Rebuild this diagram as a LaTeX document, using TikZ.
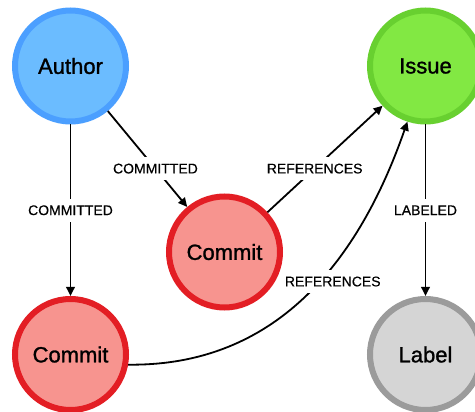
\documentclass[tikz,border=0pt]{standalone}
\usepackage{fontspec}
\setmainfont{Liberation Sans}
\newfontfamily\nodefont[FakeBold=1.2]{Liberation Sans}
\newfontfamily\relfont[FakeBold=0.4]{Liberation Sans}
\usetikzlibrary{arrows.meta}

\definecolor{authorFill}{HTML}{6BBCFF}
\definecolor{authorDraw}{HTML}{4B9FFF}
\definecolor{issueFill}{HTML}{82E843}
\definecolor{issueDraw}{HTML}{68D030}
\definecolor{commitFill}{HTML}{F7948F}
\definecolor{commitDraw}{HTML}{E31E24}
\definecolor{labelFill}{HTML}{D5D5D5}
\definecolor{labelDraw}{HTML}{9B9B9B}

\tikzset{
  entity/.style={circle, line width=6pt, minimum size=111pt, inner sep=0pt,
    font=\nodefont\fontsize{22}{24}\selectfont, text=black},
  author/.style={entity, draw=authorDraw, fill=authorFill},
  issue/.style={entity, draw=issueDraw, fill=issueFill},
  commit/.style={entity, draw=commitDraw, fill=commitFill},
  tag/.style={entity, draw=labelDraw, fill=labelFill},
  rel/.style={line width=1.8pt, draw=black,
    -{Triangle[length=9pt,width=8.5pt]}},
  relname/.style={fill=white, inner xsep=3pt, inner ysep=6.5pt,
    font=\relfont\fontsize{14}{16}\selectfont, text=black},
}

\begin{document}
\begin{tikzpicture}[x=1pt, y=-1pt]
  \useasboundingbox (0,0) rectangle (475,412);

  % graph nodes
  \node[author] (a)  at (70.5,66)    {Author};
  \node[issue]  (i)  at (425.5,66)   {Issue};
  \node[commit] (c1) at (224.5,252)  {Commit};
  \node[commit] (c2) at (70.5,354.5) {Commit};
  \node[tag]    (l)  at (425.5,354.5) {Label};

  % relationships
  \draw[rel] (a) -- node[relname] {COMMITTED} (c2);
  \draw[rel] (a) -- node[relname, pos=0.6] {COMMITTED} (c1);
  \draw[rel] (c1) -- node[relname, pos=0.41] {REFERENCES} (i);
  \draw[rel] (i) -- node[relname] {LABELED} (l);
  \draw[rel] (c2.-10) .. controls (257.7,366.3) and (350.3,285.7) ..
    node[relname, pos=0.6, xshift=11pt, yshift=-3pt] {REFERENCES} (i.252);
\end{tikzpicture}
\end{document}
